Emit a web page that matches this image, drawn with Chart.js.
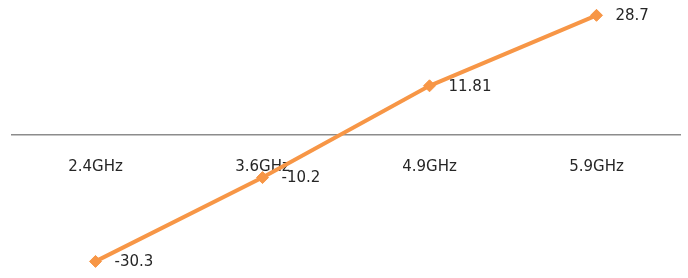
<!DOCTYPE html>
<html>
<head>
<meta charset="utf-8">
<script src="https://cdn.jsdelivr.net/npm/chart.js@4/dist/chart.umd.min.js"></script>
<style>
  html, body { margin: 0; padding: 0; background: #fff; }
  #wrap { width: 688px; height: 278px; }
</style>
</head>
<body>
<div id="wrap"><canvas id="myChart"></canvas></div>
<script>
const labels = ['2.4GHz', '3.6GHz', '4.9GHz', '5.9GHz'];
const values = [-30.3, -10.2, 11.81, 28.7];
const yMin = -32.6;
const yMax = 30.7;

// draws the value next to each point
const valueLabels = {
  id: 'valueLabels',
  afterDatasetsDraw(chart) {
    const ctx = chart.ctx;
    const meta = chart.getDatasetMeta(0);
    ctx.save();
    ctx.font = '15px "DejaVu Sans"';
    ctx.fillStyle = '#262626';
    ctx.textAlign = 'left';
    ctx.textBaseline = 'middle';
    meta.data.forEach((pt, i) => {
      ctx.fillText(String(values[i]), pt.x + 19, pt.y + 1);
    });
    ctx.restore();
  }
};

const ctx = document.getElementById('myChart').getContext('2d');
new Chart(ctx, {
  type: 'line',
  data: {
    labels: labels,
    datasets: [{
      data: values,
      borderColor: '#F79646',
      backgroundColor: '#F79646',
      borderWidth: 4,
      pointStyle: 'rectRot',
      pointRadius: 6,
      pointBorderWidth: 1,
      tension: 0,
      fill: false
    }]
  },
  options: {
    responsive: true,
    maintainAspectRatio: false,
    animation: false,
    layout: { padding: { left: 12, right: 8, top: 0, bottom: 0 } },
    plugins: {
      legend: { display: false },
      tooltip: { enabled: false }
    },
    scales: {
      x: {
        position: { y: 0 },
        offset: true,
        grid: { display: false, drawTicks: false },
        border: { display: true, color: '#8c8c8c', width: 1.5 },
        ticks: {
          padding: 23,
          color: '#262626',
          font: { family: 'DejaVu Sans', size: 15 }
        }
      },
      y: {
        display: false,
        min: yMin,
        max: yMax
      }
    }
  },
  plugins: [valueLabels]
});
</script>
</body>
</html>
